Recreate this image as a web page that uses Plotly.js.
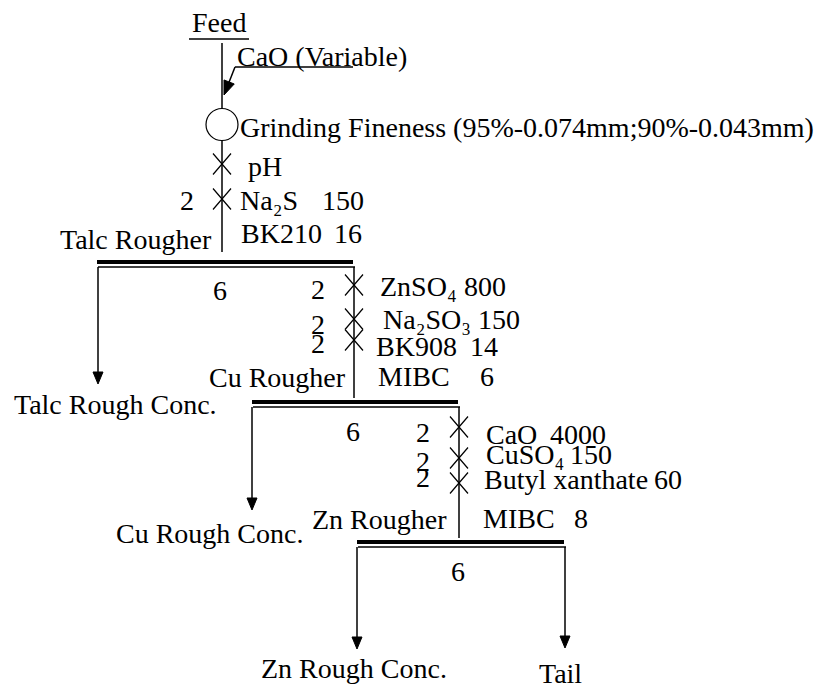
<!DOCTYPE html>
<html><head><meta charset="utf-8">
<script src="https://cdn.plot.ly/plotly-3.0.1.min.js"></script>
<style>
html,body{margin:0;padding:0;background:#fff}
#chart{width:824px;height:686px}
</style>
</head><body><div id="chart"></div>
<script>
// ---------------- DATA ----------------
const feedLabel = 'Feed';
const limeLabel = 'CaO (Variable)';
const grindLabel = 'Grinding Fineness (95%-0.074mm;90%-0.043mm)';
const stages = ['Talc Rougher', 'Cu Rougher', 'Zn Rougher'];
const products = ['Talc Rough Conc.', 'Cu Rough Conc.', 'Zn Rough Conc.', 'Tail'];
const flotationTimes = ['6', '6', '6'];               // min
const talcReagents = ['pH', 'Na\u2082S', 'BK210'];
const talcDoses = ['', '150', '16'];                  // g/t
const talcCondTimes = ['2'];                          // min
const cuReagents = ['ZnSO\u2084', 'Na\u2082SO\u2083', 'BK908', 'MIBC'];
const cuDoses = ['800', '150', '14', '6'];
const cuCondTimes = ['2', '2', '2'];
const znReagents = ['CaO', 'CuSO\u2084', 'Butyl xanthate', 'MIBC'];
const znDoses = ['4000', '150', '60', '8'];
const znCondTimes = ['2', '2', '2'];

// ---------------- LAYOUT (positions, px) ----------------
const P = {
  mainX: 222,
  feed: {x: 219, y: 22, ulY: 39, ul: [189, 249], lineTop: 43},
  lime: {x: 235, y: 56, ulY: 67, ulEnd: 353, tip: [224, 95]},
  mill: {cy: 124.5, r: 16, textX: 238, textY: 127},
  talc: {nameX: [246, 238, 239], doseR: [0, 366, 364], rowY: [166, 200, 233], xY: [164, 199],
         timeX: [187], timeY: [200], lineEnd: 252,
         bar: [97, 354], barY: 262, stageR: 214, stageY: 239, tX: 220, tY: 290,
         dropTip: 384, prodX: 12, prodY: 404, nextBottom: 398},
  cu: {nameX: [378, 381, 374, 376], doseR: [508, 522, 500, 496], rowY: [286, 319, 346, 376], xY: [285, 319, 340],
       timeX: [318, 318, 318], timeY: [289, 324, 343], vX: 354,
       bar: [252, 459], barY: 402, stageR: 348, stageY: 377, tX: 353, tY: 431,
       dropTip: 510, prodX: 114, prodY: 533, nextBottom: 538},
  zn: {nameX: [484, 484, 482, 481], doseR: [608, 614, 684, 590], rowY: [434, 454, 479, 518], xY: [427, 458, 483],
       timeX: [423, 423, 423], timeY: [432, 461, 477], vX: 459,
       bar: [357, 565], barY: 542, stageR: 449, stageY: 519, tX: 458, tY: 571,
       dropTip: 649, prodX: 259, prodY: 668, tailX: 537, tailY: 673},
};

const FAMILY = 'Liberation Serif, Times New Roman, serif';
const annotations = [];
const shapes = [];
function txt(text, x, y, anchor) {
  annotations.push({text: text, x: x, y: y, xref: 'x', yref: 'y', showarrow: false,
    xanchor: anchor || 'left', yanchor: 'middle',
    font: {family: FAMILY, size: 28, color: '#000'}});
}
function line(x0, y0, x1, y1, w) {
  shapes.push({type: 'line', xref: 'x', yref: 'y', x0: x0, y0: y0, x1: x1, y1: y1,
    line: {color: '#000', width: w || 1.5}});
}
function tri(tx, ty, dx, dy, len, half) {
  const n = Math.hypot(dx, dy); const ux = dx / n, uy = dy / n;
  const bx = tx - ux * len, by = ty - uy * len;
  const px = -uy * half, py = ux * half;
  shapes.push({type: 'path', xref: 'x', yref: 'y',
    path: `M ${tx},${ty} L ${bx + px},${by + py} L ${bx - px},${by - py} Z`,
    fillcolor: '#000', line: {color: '#000', width: 1}});
}
function mixer(x, y) {
  const hw = 9, hh = 10.5;
  shapes.push({type: 'path', xref: 'x', yref: 'y',
    path: `M ${x - hw},${y - hh} L ${x + hw},${y + hh} M ${x + hw},${y - hh} L ${x - hw},${y + hh}`,
    line: {color: '#000', width: 1.2}});
}
function cell(b, y) {
  line(b.bar[0], y, b.bar[1] - 1, y, 4);
  line(b.bar[0] + 1, y + 5, b.bar[1] + 1, y + 5, 1.5);
}
function drop(x, yTop, tip) {
  line(x, yTop, x, tip - 10, 1.5);
  tri(x, tip, 0, 1, 12, 5);
}

txt(feedLabel, P.feed.x, P.feed.y, 'center');
line(P.feed.ul[0], P.feed.ulY, P.feed.ul[1], P.feed.ulY, 1.5);
line(P.mainX, P.feed.lineTop, P.mainX, P.mill.cy - P.mill.r, 1.5);
txt(limeLabel, P.lime.x, P.lime.y, 'left');
line(P.lime.x, P.lime.ulY, P.lime.ulEnd, P.lime.ulY, 1.5);
const ldx = P.lime.tip[0] - P.lime.x, ldy = P.lime.tip[1] - P.lime.ulY;
line(P.lime.x, P.lime.ulY, P.lime.tip[0] - ldx * 0.35, P.lime.tip[1] - ldy * 0.35, 1.5);
tri(P.lime.tip[0], P.lime.tip[1], ldx, ldy, 14, 5.5);
shapes.push({type: 'circle', xref: 'x', yref: 'y', x0: P.mainX - P.mill.r, x1: P.mainX + P.mill.r,
  y0: P.mill.cy - P.mill.r, y1: P.mill.cy + P.mill.r, line: {color: '#000', width: 1.2}});
txt(grindLabel, P.mill.textX, P.mill.textY, 'left');

function section(S, reagents, doses, condTimes, vX, idx) {
  reagents.forEach((r, i) => {
    txt(r, S.nameX[i], S.rowY[i], 'left');
    if (doses[i]) txt(doses[i], S.doseR[i], S.rowY[i], 'right');
  });
  S.xY.forEach(y => mixer(vX, y));
  condTimes.forEach((t, i) => txt(t, S.timeX[i], S.timeY[i], 'center'));
  txt(stages[idx], S.stageR, S.stageY, 'right');
  cell(S, S.barY);
  txt(flotationTimes[idx], S.tX, S.tY, 'center');
}

const T = P.talc, C = P.cu, Z = P.zn;
line(P.mainX, P.mill.cy + P.mill.r, P.mainX, T.lineEnd, 1.5);
section(T, talcReagents, talcDoses, talcCondTimes, P.mainX, 0);
drop(T.bar[0] + 1, T.barY + 5, T.dropTip);
txt(products[0], T.prodX, T.prodY, 'left');

line(C.vX, T.barY + 5, C.vX, T.nextBottom, 1.5);
section(C, cuReagents, cuDoses, cuCondTimes, C.vX, 1);
drop(C.bar[0], C.barY + 5, C.dropTip);
txt(products[1], C.prodX, C.prodY, 'left');

line(Z.vX, C.barY + 5, Z.vX, C.nextBottom, 1.5);
section(Z, znReagents, znDoses, znCondTimes, Z.vX, 2);
drop(Z.bar[0], Z.barY + 5, Z.dropTip);
drop(Z.bar[1], Z.barY + 5, Z.dropTip - 1);
txt(products[2], Z.prodX, Z.prodY, 'left');
txt(products[3], Z.tailX, Z.tailY, 'left');

const layout = {
  width: 824, height: 686, margin: {l: 0, r: 0, t: 0, b: 0},
  font: {family: FAMILY, size: 28, color: '#000'},
  paper_bgcolor: '#fff', plot_bgcolor: '#fff', showlegend: false,
  xaxis: {range: [0, 824], visible: false},
  yaxis: {range: [686, 0], visible: false},
  shapes: shapes, annotations: annotations
};
Plotly.newPlot('chart', [{x: [], y: [], type: 'scatter'}], layout, {staticPlot: true});
</script></body></html>
